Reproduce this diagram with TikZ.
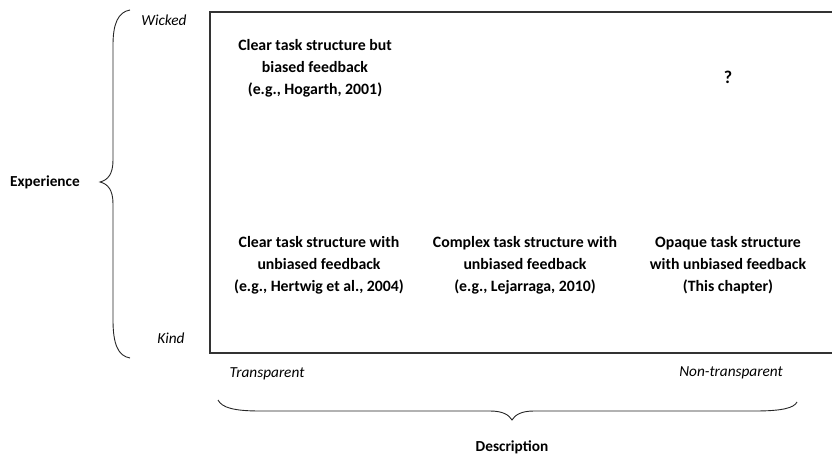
\documentclass[tikz,border=0pt]{standalone}
\usepackage{fontspec}
\setmainfont{Carlito}
\begin{document}
\begin{tikzpicture}[x=1pt,y=-1pt,
  cell/.style={font=\fontsize{15.8}{22}\selectfont\bfseries, align=center, inner sep=0pt},
  axislabel/.style={font=\fontsize{15.3}{18}\selectfont\itshape, inner sep=0pt},
  dimlabel/.style={font=\fontsize{15.3}{18}\selectfont\bfseries, inner sep=0pt},
  bracestyle/.style={line width=0.9pt, draw=black!85},
  frame/.style={line width=1.3pt, draw=black!80}]
\useasboundingbox (0,0) rectangle (832,457);
% frame (right side runs off the picture)
\coordinate (tr) at (832,12);
\coordinate (tl) at (210,12);
\coordinate (bl) at (210,353);
\coordinate (br) at (832,353);
\draw[frame] (tr) -- (tl) -- (bl) -- (br);
% cells
\node[cell] (c1) at (315,68) {Clear task structure but\\biased feedback\\(e.g., Hogarth, 2001)};
\node[cell, font=\fontsize{18}{22}\selectfont\bfseries] (c2) at (728,77) {?};
\node[cell] (c3) at (319,265) {Clear task structure with\\unbiased feedback\\(e.g., Hertwig et al., 2004)};
\node[cell] (c4) at (525,265) {Complex task structure with\\unbiased feedback\\(e.g., Lejarraga, 2010)};
\node[cell] (c5) at (728,265) {Opaque task structure\\with unbiased feedback\\(This chapter)};
% axis labels
\node[axislabel] (wicked) at (164,20) {Wicked};
\node[axislabel] (kind) at (171,338) {Kind};
\node[axislabel] (transp) at (267,374) {Transparent};
\node[axislabel] (nontransp) at (731,373) {Non-transparent};
\node[dimlabel] (exp) at (45,182) {Experience};
\node[dimlabel] (desc) at (512,447) {Description};
% left brace
\draw[bracestyle] (130,10) .. controls (118,12) and (113,24) .. (113,45)
  -- (113,160) .. controls (113,174) and (108,180) .. (100,182)
  .. controls (108,184) and (113,190) .. (113,204)
  -- (113,320) .. controls (113,344) and (118,356) .. (130,358);
% bottom brace
\draw[bracestyle] (218,400) .. controls (222,408) and (235,411) .. (260,411)
  -- (490,411) .. controls (503,411) and (509,415) .. (512,420)
  .. controls (515,415) and (521,411) .. (534,411)
  -- (755,411) .. controls (782,411) and (794,408) .. (797,402);
\end{tikzpicture}
\end{document}
